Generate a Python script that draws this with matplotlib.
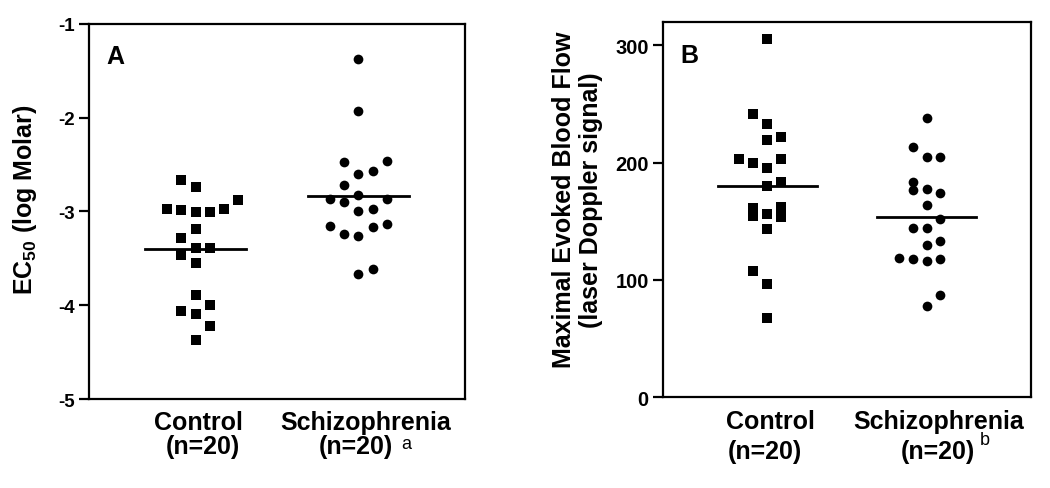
import matplotlib
matplotlib.use("Agg")
from matplotlib import pyplot as plt

plt.rcParams["font.family"] = ["Liberation Sans", "DejaVu Sans"]
plt.rcParams["font.weight"] = "bold"
plt.rcParams["mathtext.fontset"] = "custom"
plt.rcParams["mathtext.rm"] = "Liberation Sans:bold"
plt.rcParams["mathtext.bf"] = "Liberation Sans:bold"
plt.rcParams["mathtext.default"] = "bf"

# Panel A: EC50 (log Molar)
ec50_control = [-2.66, -2.735, -2.88, -2.97, -2.98, -3.01, -3.01, -2.97, -3.19, -3.28,
                -3.39, -3.39, -3.46, -3.55, -3.89, -4.00, -4.06, -4.09, -4.22, -4.37]
ec50_control_slot = [-1, 0, 3, -2, -1, 0, 1, 2, 0, -1, 0, 1, -1, 0, 0, 1, -1, 0, 1, 0]
ec50_schizo = [-1.377, -1.93, -2.47, -2.46, -2.60, -2.57, -2.72, -2.82, -2.87, -2.90,
               -2.87, -2.99, -2.97, -3.16, -3.24, -3.26, -3.17, -3.13, -3.67, -3.61]
ec50_schizo_slot = [0, 0, -1, 2, 0, 1, -1, 0, -2, -1, 2, 0, 1, -2, -1, 0, 1, 2, 0, 1]
ec50_lines = [-3.40, -2.835]

# Panel B: maximal evoked blood flow
flow_control = [305.7, 241.5, 232.9, 222.1, 219.0, 203.0, 199.3, 203.0, 195.4, 183.4,
                180.3, 161.3, 154.1, 155.8, 162.1, 153.6, 143.6, 107.8, 96.7, 67.7]
flow_control_slot = [0, -1, 0, 1, 0, -2, -1, 1, 0, 1, 0, -1, -1, 0, 1, 1, 0, -1, 0, 0]
flow_schizo = [238.3, 213.6, 204.8, 204.8, 183.1, 176.3, 177.5, 174.3, 163.8, 151.9,
               144.5, 144.2, 133.4, 129.4, 119.1, 117.7, 116.0, 117.7, 87.5, 78.2]
flow_schizo_slot = [0, -1, 0, 1, -1, -1, 0, 1, 0, 1, -1, 0, 1, 0, -2, -1, 0, 1, 1, 0]
flow_lines = [179.8, 153.2]

groups = ["Control", "Schizophrenia"]
n_labels = ["(n=20)", "(n=20)"]

SLOT = 0.087
HALF = 0.31
MS = 7.0

fig = plt.figure(figsize=(10.5, 4.89), dpi=100)
axA = fig.add_axes([0.0848, 0.182, 0.358, 0.767])
axB = fig.add_axes([0.631, 0.1855, 0.351, 0.768])


def style_axis(ax, tick_size):
    for s in ax.spines.values():
        s.set_linewidth(1.6)
    ax.set_xticks([])
    ax.tick_params(axis="y", length=7, width=1.6, pad=3, labelsize=tick_size)
    for lab in ax.get_yticklabels():
        lab.set_fontweight("bold")
    ax.set_xlim(0.345, 2.655)


def draw_group(ax, xc, vals, slots, marker):
    xs = [xc + s * SLOT for s in slots]
    ax.plot(xs, vals, linestyle="none", marker=marker, ms=MS, color="black",
            markeredgewidth=0)


# Panel A
draw_group(axA, 1, ec50_control, ec50_control_slot, "s")
draw_group(axA, 2, ec50_schizo, ec50_schizo_slot, "o")
for i, v in enumerate(ec50_lines):
    axA.plot([i + 1 - HALF, i + 1 + HALF], [v, v], color="black", lw=2)
axA.set_ylim(-5, -1)
axA.set_yticks([-5, -4, -3, -2, -1])
axA.set_yticklabels(["-5", "-4", "-3", "-2", "-1"])
style_axis(axA, 13.5)
axA.text(0.069, 0.915, "A", transform=axA.transAxes, fontsize=18,
         ha="center", va="center")
axA.text(-0.17, 0.533, r"EC$_{50}$ (log Molar)", transform=axA.transAxes,
         rotation=90, fontsize=18, ha="center", va="center")
tA = axA.get_xaxis_transform()
axA.text(1.018, -0.06, groups[0], transform=tA, fontsize=18, ha="center", va="center")
axA.text(1.046, -0.124, n_labels[0], transform=tA, fontsize=18, ha="center", va="center")
axA.text(2.043, -0.06, groups[1], transform=tA, fontsize=18, ha="center", va="center")
axA.text(1.986, -0.124, n_labels[1], transform=tA, fontsize=18, ha="center", va="center")
axA.text(2.262, -0.13, "a", transform=tA, fontsize=13, fontweight="normal",
         ha="left", va="baseline")

# Panel B
draw_group(axB, 1, flow_control, flow_control_slot, "s")
draw_group(axB, 2, flow_schizo, flow_schizo_slot, "o")
for i, v in enumerate(flow_lines):
    axB.plot([i + 1 - HALF, i + 1 + HALF], [v, v], color="black", lw=2)
axB.set_ylim(0, 320)
axB.set_yticks([0, 100, 200, 300])
style_axis(axB, 14.5)
axB.text(0.074, 0.911, "B", transform=axB.transAxes, fontsize=18,
         ha="center", va="center")
axB.text(-0.231, 0.528, "Maximal Evoked Blood Flow\n(laser Doppler signal)",
         transform=axB.transAxes, rotation=90, fontsize=18, ha="center",
         va="center", linespacing=1.2)
tB = axB.get_xaxis_transform()
axB.text(1.023, -0.063, groups[0], transform=tB, fontsize=18, ha="center", va="center")
axB.text(0.986, -0.143, n_labels[0], transform=tB, fontsize=18, ha="center", va="center")
axB.text(2.078, -0.063, groups[1], transform=tB, fontsize=18, ha="center", va="center")
axB.text(2.068, -0.143, n_labels[1], transform=tB, fontsize=18, ha="center", va="center")
axB.text(2.333, -0.125, "b", transform=tB, fontsize=13, fontweight="normal",
         ha="left", va="baseline")

fig.savefig("out.png", dpi=100)
